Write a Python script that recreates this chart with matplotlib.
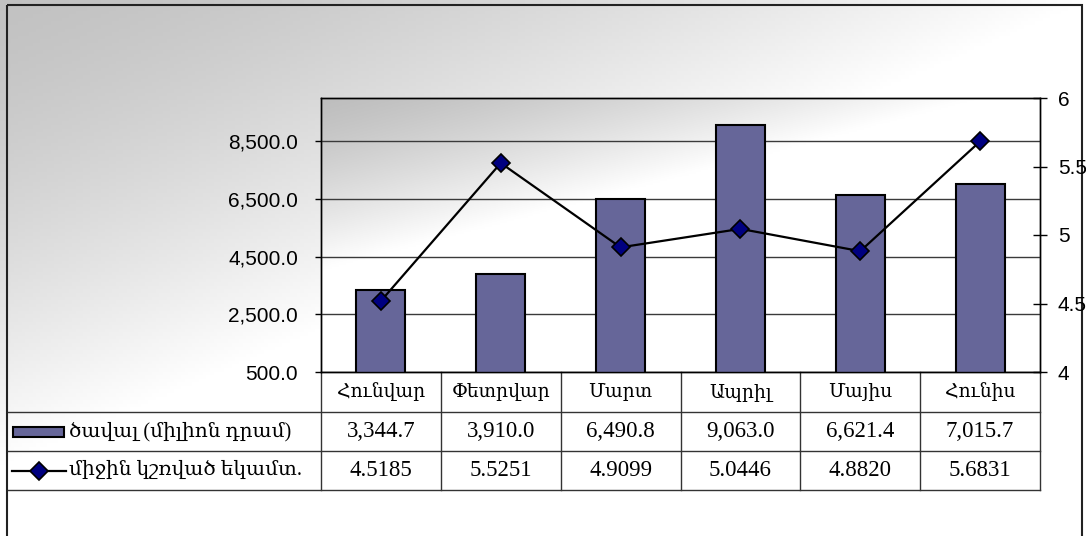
#!/usr/bin/env python3

import numpy as np
import matplotlib
matplotlib.use('Agg')
import matplotlib.pyplot as plt
from matplotlib import transforms
from matplotlib.patches import Rectangle
from matplotlib.lines import Line2D

months = ['Հունվար', 'Փետրվար', 'Մարտ', 'Ապրիլ', 'Մայիս', 'Հունիս']
volume = [3344.7, 3910.0, 6490.8, 9063.0, 6621.4, 7015.7]
rate = [4.5185, 5.5251, 4.9099, 5.0446, 4.8820, 5.6831]
volume_label = 'ծավալ (միլիոն դրամ)'
rate_label = 'միջին կշռված եկամտ.'

W, H = 1086, 536
# plot area in pixels
PL, PT, PR, PB = 321, 98, 1040, 372

plt.rcParams['font.family'] = ['Liberation Sans', 'DejaVu Sans']
serif = ['Liberation Serif', 'DejaVu Serif']


def gradient(nx, ny, g0, a, b, p):
    u, v = np.meshgrid(np.linspace(0, 1, nx), np.linspace(0, 1, ny))
    t = np.clip(u * a + v * b, 0, 1) ** p
    g = g0 + (1 - g0) * t
    return np.dstack([g, g, g])


def main():
    fig = plt.figure(figsize=(W / 100, H / 100), dpi=100)

    # chart area background + border
    bg = fig.add_axes([0, 0, 1, 1], zorder=-5)
    bg.imshow(gradient(300, 150, 0.76, 1.0, 1.15, 1.4), extent=[0, W, H, 0], aspect='auto')
    bg.add_patch(Rectangle((7, 5), 1075, 540, fill=False, ec='#222222', lw=1.5))
    bg.set_xlim(0, W)
    bg.set_ylim(H, 0)
    bg.axis('off')

    ax = fig.add_axes([PL / W, 1 - PB / H, (PR - PL) / W, (PB - PT) / H])
    ax.imshow(gradient(300, 150, 0.745, 1.1, 1.6, 1.3), extent=[0, 1, 0, 1],
              transform=ax.transAxes, aspect='auto', zorder=0)

    x = np.arange(len(months))
    ax.bar(x, volume, width=0.41, color='#666699', edgecolor='black', linewidth=1.5, zorder=3)
    ax.set_xlim(-0.5, len(months) - 0.5)
    ax.set_ylim(500, 10000)
    ax.set_yticks([500, 2500, 4500, 6500, 8500])
    ax.yaxis.set_major_formatter(lambda v, _: '{:,.1f}'.format(v))
    ax.yaxis.grid(True, color='#3a3a3a', linewidth=1)
    ax.set_axisbelow(False)
    for gl in ax.get_ygridlines():
        gl.set_zorder(1)
    ax.tick_params(axis='y', direction='out', length=4.5, width=1, labelsize=15, pad=12)
    ax.set_xticks([])
    for s in ax.spines.values():
        s.set_linewidth(1)
        s.set_color('black')

    ax2 = ax.twinx()
    ax2.plot(x, rate, color='black', linewidth=1.6, marker='D', markersize=9,
             markerfacecolor='#000080', markeredgecolor='black', markeredgewidth=1.2, zorder=5)
    ax2.set_ylim(4, 6)
    ax2.set_yticks([4, 4.5, 5, 5.5, 6])
    ax2.yaxis.set_major_formatter(lambda v, _: '{:g}'.format(v))
    ax2.tick_params(axis='y', direction='inout', length=9.5, width=1, labelsize=15, pad=8)
    for s in ax2.spines.values():
        s.set_linewidth(1)

    # data table under the plot
    tr = transforms.blended_transform_factory(ax.transData, ax.transAxes)
    colw = (PR - PL) / len(months)

    def px_x(p):
        return (p - PL) / colw - 0.5

    def px_y(p):
        return (PB - p) / (PB - PT)

    rows = [372, 412, 451, 490]
    lc = '#333333'
    for i in range(len(months) + 1):
        ax.add_line(Line2D([i - 0.5, i - 0.5], [px_y(rows[0]), px_y(rows[-1])], transform=tr,
                           color=lc, lw=1, clip_on=False))
    for r in rows[1:]:
        ax.add_line(Line2D([px_x(8), len(months) - 0.5], [px_y(r), px_y(r)], transform=tr,
                           color=lc, lw=1, clip_on=False))

    centers = [(rows[k] + rows[k + 1]) / 2 for k in range(3)]
    for i, m in enumerate(months):
        ax.text(i, px_y(centers[0]), m, transform=tr, ha='center', va='center',
                fontsize=13.5, family=serif)
        ax.text(i, px_y(centers[1]), '{:,.1f}'.format(volume[i]), transform=tr,
                ha='center', va='center', fontsize=16.5, family=serif)
        ax.text(i, px_y(centers[2]), '{:.4f}'.format(rate[i]), transform=tr,
                ha='center', va='center', fontsize=16.5, family=serif)

    # legend keys
    kh = 10 / (PB - PT)
    ax.add_patch(Rectangle((px_x(13), px_y(centers[1]) - kh / 2), px_x(64) - px_x(13), kh,
                           transform=tr, facecolor='#666699', edgecolor='black', lw=1.5,
                           clip_on=False))
    ax.add_line(Line2D([px_x(12), px_x(66)], [px_y(centers[2])] * 2, transform=tr,
                       color='black', lw=1.6, clip_on=False))
    ax.add_line(Line2D([px_x(39)], [px_y(centers[2])], transform=tr, marker='D', markersize=9,
                       markerfacecolor='#000080', markeredgecolor='black', markeredgewidth=1.2,
                       clip_on=False))
    ax.text(px_x(69), px_y(centers[1]), volume_label, transform=tr, ha='left', va='center',
            fontsize=14.5, family=serif)
    ax.text(px_x(69), px_y(centers[2]), rate_label, transform=tr, ha='left', va='center',
            fontsize=14.5, family=serif)

    fig.savefig('out.png', dpi=100)


if __name__ == '__main__':
    main()
